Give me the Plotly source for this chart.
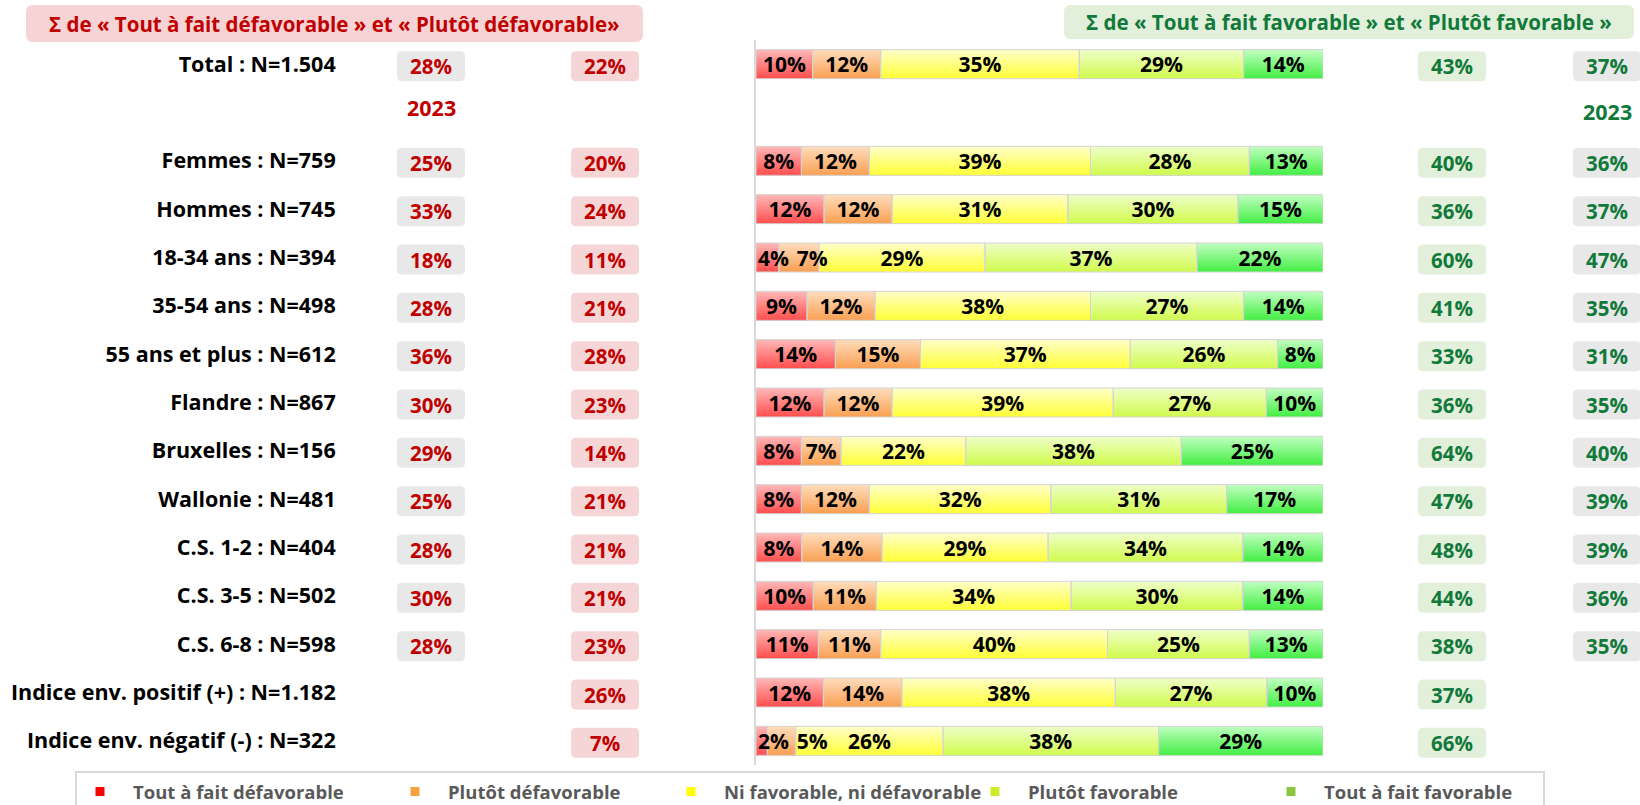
import plotly.graph_objects as go

# ---------------- data ----------------
groups = ["Total : N=1.504", "Femmes : N=759", "Hommes : N=745", "18-34 ans : N=394",
          "35-54 ans : N=498", "55 ans et plus : N=612", "Flandre : N=867",
          "Bruxelles : N=156", "Wallonie : N=481", "C.S. 1-2 : N=404", "C.S. 3-5 : N=502",
          "C.S. 6-8 : N=598", "Indice env. positif (+) : N=1.182",
          "Indice env. négatif (-) : N=322"]

series_names = ["Tout à fait défavorable", "Plutôt défavorable",
                "Ni favorable, ni défavorable", "Plutôt favorable", "Tout à fait favorable"]
tout_defav = [10, 8, 12, 4, 9, 14, 12, 8, 8, 8, 10, 11, 12, 2]
plutot_defav = [12, 12, 12, 7, 12, 15, 12, 7, 12, 14, 11, 11, 14, 5]
ni_ni = [35, 39, 31, 29, 38, 37, 39, 22, 32, 29, 34, 40, 38, 26]
plutot_fav = [29, 28, 30, 37, 27, 26, 27, 38, 31, 34, 30, 25, 27, 38]
tout_fav = [14, 13, 15, 22, 14, 8, 10, 25, 17, 14, 14, 13, 10, 29]

defav_2023 = [28, 25, 33, 18, 28, 36, 30, 29, 25, 28, 30, 28, None, None]
defav_now = [22, 20, 24, 11, 21, 28, 23, 14, 21, 21, 21, 23, 26, 7]
fav_now = [43, 40, 36, 60, 41, 33, 36, 64, 47, 48, 44, 38, 37, 66]
fav_2023 = [37, 36, 37, 47, 35, 31, 35, 40, 39, 39, 36, 35, None, None]

header_defav = "Σ de « Tout à fait défavorable » et « Plutôt défavorable»"
header_fav = "Σ de « Tout à fait favorable » et « Plutôt favorable »"
year_label = "2023"

# ---------------- styles ----------------
W, H = 1640, 805
MT, MB = 40, 40
PLOT_H = H - MT - MB
X0_PX, X1_PX = 756, 1323
FONT = "Open Sans"
RED_TXT = "#C00000"
GREEN_TXT = "#117A3A"
GRAY_BOX = "#E8E8E8"
PINK_BOX = "#F6D5D6"
GREEN_BOX = "#E2EFDA"

grad = [("#FFB4B4", "#FF5252"),
        ("#FFDAB8", "#F9A257"),
        ("#FFFFC4", "#FFFF3C"),
        ("#EDFFC4", "#D2FB52"),
        ("#BCFFBC", "#48EE48")]
legend_cols = ["#FF0000", "#F9A03F", "#FFFF00", "#C8EE2A", "#8CC63F"]
legend_text_px = [125, 440, 716, 1020, 1316]
LEG_ITEMW = 56
STRIPES = 12
BW = 0.6
TEXT_DY = 0.06  # small downward nudge of in-bar labels (row units)


def mix(c1, c2, t):
    a = [int(c1[i:i + 2], 16) for i in (1, 3, 5)]
    b = [int(c2[i:i + 2], 16) for i in (1, 3, 5)]
    return "rgb({},{},{})".format(*[round(a[j] + (b[j] - a[j]) * t) for j in range(3)])


def px_x(p):
    return p / W


def px_y(p):
    return (H - MB - p) / PLOT_H


def rrect(w, h, r, dy=0.0):
    x0, x1, y0, y1 = -w / 2, w / 2, -h / 2 + dy, h / 2 + dy
    return (f"M{x0 + r},{y0} L{x1 - r},{y0} Q{x1},{y0} {x1},{y0 + r} "
            f"L{x1},{y1 - r} Q{x1},{y1} {x1 - r},{y1} L{x0 + r},{y1} "
            f"Q{x0},{y1} {x0},{y1 - r} L{x0},{y0 + r} Q{x0},{y0} {x0 + r},{y0} Z")


# row positions (blank slot after Total)
ypos = [0] + list(range(2, len(groups) + 1))
spacer = 1

series = [tout_defav, plutot_defav, ni_ni, plutot_fav, tout_fav]
n = len(groups)
totals = [sum(s[i] for s in series) for i in range(n)]
widths = [[s[i] * 100.0 / totals[i] for i in range(n)] for s in series]
bases = []
for k in range(5):
    bases.append([sum(widths[j][i] for j in range(k)) for i in range(n)])

# label x positions (centred, nudged apart for tiny segments)
text_x = [[0.0] * n for _ in range(5)]
for i in range(n):
    prev = None
    for k in range(5):
        c = bases[k][i] + widths[k][i] / 2
        lo = 3.1 if prev is None else prev + 6.8
        c = max(c, lo)
        text_x[k][i] = c
        prev = c
text_y = [y + TEXT_DY for y in ypos]

fig = go.Figure()

# gradient: each stripe runs from its offset to the bar bottom, later ones on top
for k in range(5):
    top, bot = grad[k]
    for s in range(STRIPES):
        fig.add_trace(go.Bar(
            orientation="h", y=ypos, x=widths[k], base=bases[k],
            width=BW - s * BW / STRIPES, offset=-BW / 2 + s * BW / STRIPES,
            marker=dict(color=mix(top, bot, s / (STRIPES - 1)), line=dict(width=0)),
            showlegend=False, hoverinfo="skip"))

for k in range(5):
    fig.add_trace(go.Bar(
        orientation="h", y=ypos, x=widths[k], base=bases[k], width=BW,
        offset=-BW / 2,
        marker=dict(color="rgba(0,0,0,0)", line=dict(color="#D4D4D4", width=1)),
        showlegend=False, hoverinfo="skip"))

for k in range(5):
    fig.add_trace(go.Scatter(
        x=text_x[k], y=text_y, mode="text",
        text=[f"{v}%" for v in series[k]],
        textfont=dict(family=FONT, size=21, color="#000000", weight=700),
        cliponaxis=False, showlegend=False, hoverinfo="skip"))

legends = {}
for k in range(5):
    lname = "legend" if k == 0 else f"legend{k + 1}"
    fig.add_trace(go.Scatter(
        x=[None], y=[None], mode="markers", name=series_names[k], legend=lname,
        marker=dict(symbol="square", size=9, color=legend_cols[k])))
    legends[lname] = dict(orientation="h", x=px_x(legend_text_px[k] - 32 - LEG_ITEMW + 30),
                          y=px_y(773), xanchor="left", yanchor="top",
                          borderwidth=0, bgcolor="rgba(0,0,0,0)", itemwidth=LEG_ITEMW,
                          font=dict(family=FONT, size=18.5, color="#595959", weight=700))

shapes = []
annotations = []


def add_box(xc_px, yv, val, bg, fg, w=68, h=30, dy=-2):
    if val is None:
        return
    shapes.append(dict(type="path", xref="paper", yref="y",
                       xsizemode="pixel", ysizemode="pixel",
                       xanchor=px_x(xc_px), yanchor=yv,
                       path=rrect(w, h, 5, dy), fillcolor=bg,
                       line=dict(width=0), layer="below"))
    annotations.append(dict(xref="paper", yref="y", x=px_x(xc_px), y=yv,
                            xanchor="center", yanchor="middle",
                            yshift=dy, text=f"{val}%", showarrow=False,
                            font=dict(family=FONT, size=20.5, color=fg, weight=700)))


for i in range(n):
    add_box(431, ypos[i], defav_2023[i], GRAY_BOX, RED_TXT)
    add_box(605, ypos[i], defav_now[i], PINK_BOX, RED_TXT)
    add_box(1452, ypos[i], fav_now[i], GREEN_BOX, GREEN_TXT)
    add_box(1607, ypos[i], fav_2023[i], GRAY_BOX, GREEN_TXT)

annotations.append(dict(xref="paper", yref="y", x=px_x(431), y=spacer, yshift=5,
                        xanchor="center", yanchor="middle",
                        text=year_label, showarrow=False,
                        font=dict(family=FONT, size=21.5, color=RED_TXT, weight=700)))
annotations.append(dict(xref="paper", yref="y", x=px_x(1607), y=spacer, yshift=1,
                        xanchor="center", yanchor="middle",
                        text=year_label, showarrow=False,
                        font=dict(family=FONT, size=21.5, color=GREEN_TXT, weight=700)))

# headers
for xc, yc, w, h, txt, bg, fg in [(334.5, 23.5, 617, 37, header_defav, "#F6D3D5", RED_TXT),
                                  (1349, 22, 570, 34, header_fav, GREEN_BOX, GREEN_TXT)]:
    shapes.append(dict(type="path", xref="paper", yref="paper",
                       xsizemode="pixel", ysizemode="pixel",
                       xanchor=px_x(xc), yanchor=px_y(yc),
                       path=rrect(w, h, 7), fillcolor=bg, line=dict(width=0),
                       layer="below"))
    annotations.append(dict(xref="paper", yref="paper", x=px_x(xc), y=px_y(yc),
                            xanchor="center", yanchor="middle",
                            text=txt, showarrow=False,
                            font=dict(family=FONT, size=20.5, color=fg, weight=700)))

# legend frame
shapes.append(dict(type="rect", xref="paper", yref="paper",
                   x0=px_x(76), x1=px_x(1544), y0=px_y(772), y1=px_y(830),
                   line=dict(color="#D9D9D9", width=2), fillcolor="rgba(0,0,0,0)"))

fig.update_layout(
    width=W, height=H,
    margin=dict(l=0, r=0, t=MT, b=MB, autoexpand=False),
    paper_bgcolor="white", plot_bgcolor="white",
    barmode="overlay",
    xaxis=dict(domain=[X0_PX / W, X1_PX / W], range=[0, 100], visible=False,
               fixedrange=True),
    yaxis=dict(range=[14.5, -0.5], tickvals=ypos, ticktext=groups,
               showgrid=False, zeroline=False, showline=True,
               linecolor="#D9D9D9", linewidth=2, ticks="",
               ticklabelstandoff=414, fixedrange=True,
               tickfont=dict(family=FONT, size=21.5, color="#000000", weight=700)),
    showlegend=True,
    shapes=shapes, annotations=annotations,
    **legends,
)

fig.write_html("out.html", config={"displayModeBar": False},
               post_script="document.body.style.margin='0';")
